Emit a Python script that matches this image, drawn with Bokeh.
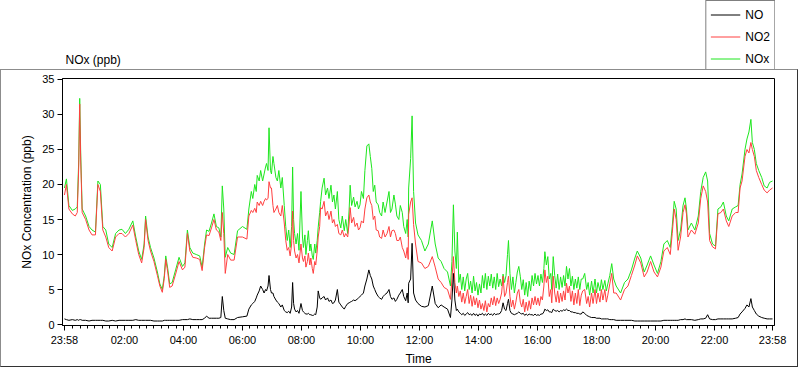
from bokeh.plotting import figure
from bokeh.layouts import column
from bokeh.models import Range1d, FixedTicker, Legend, LegendItem, Label
from bokeh.embed import file_html
from bokeh.resources import INLINE

# ---- data (minutes after the 23:58 start, ppb) ----
MINUTES = [0, 4, 9, 16, 22, 26, 29, 31, 33, 36, 43, 50, 56, 63, 68, 73, 78, 84, 90, 97,
           104, 111, 117, 124, 131, 139, 145, 151, 157, 162, 165, 170, 175, 182, 189, 194, 199,
           203, 206, 210, 214, 219, 226, 233, 240, 245, 250, 255, 261, 268, 275, 280, 285, 289,
           294, 299, 304, 309, 314, 318, 321, 324, 327, 332, 338, 345,
           352, 362, 371, 375,
           380, 383, 387, 390, 392, 396, 399, 403, 406, 409, 411, 414, 416, 419, 421, 424, 426,
           430, 433, 436,
           440, 443, 447, 450, 453, 456, 459, 462, 464, 466,
           468, 471, 474, 477, 481, 484, 486, 489, 491, 494,
           496, 499, 501, 504, 506, 509, 511, 514, 516, 519,
           521, 524, 528, 531, 535, 538, 542, 545, 548, 551,
           555, 558, 562, 565, 569, 572, 576, 579, 581, 584,
           588, 591, 595, 598, 601, 604, 608, 611, 615, 619,
           622, 625, 628, 631, 634, 638, 641, 645, 648, 652,
           656, 660, 663, 666, 670, 673, 676, 680, 683, 687,
           690, 694, 697, 699,
           700, 704, 707, 710, 714, 719, 726, 733, 740, 748, 754, 760, 766, 772, 779,
           785, 788, 791, 794, 797, 799, 802, 805, 808, 811, 814, 817, 820, 823, 826, 829, 832,
           835, 838, 841, 844, 847, 850, 853, 856, 859, 862, 865, 868, 871, 874, 877, 880, 883,
           886, 889, 892, 895, 898, 901, 903, 906, 909, 912, 915, 918, 921, 924, 927, 930, 933,
           936, 939, 942, 945, 948, 951, 954, 957, 960, 963, 966, 969, 972, 975, 977, 980, 983,
           986, 989, 991, 994, 997, 1000, 1003, 1006, 1009, 1012, 1015, 1018, 1021, 1024, 1027,
           1030, 1033, 1036, 1039, 1042, 1045, 1048, 1051,
           1054, 1058, 1062, 1065, 1068, 1072, 1075, 1079, 1082, 1085, 1089, 1092, 1095, 1099,
           1102, 1105, 1109, 1113, 1117,
           1122, 1131, 1139, 1146, 1153, 1160, 1165,
           1172, 1179, 1185, 1192, 1199, 1206, 1213, 1219, 1226, 1232, 1236, 1240, 1244, 1248,
           1253, 1258, 1262, 1265, 1268, 1275, 1282, 1289, 1294, 1299, 1304, 1308, 1312, 1318,
           1324, 1329, 1335, 1340, 1346, 1351, 1358, 1365, 1370, 1374, 1378, 1384, 1388, 1392,
           1396, 1399, 1403, 1407, 1412, 1418, 1423, 1429, 1434, 1440]

NOX = [19.5, 20.8, 17.0, 16.3, 16.5, 16.8, 23.5, 32.3, 24.5, 16.5, 15.5, 14.0, 13.5, 13.2, 20.5, 20.0, 14.0, 13.5, 11.5, 11.0,
       13.0, 13.5, 13.6, 13.0, 13.6, 14.8, 12.5, 10.5, 9.3, 11.5, 15.5, 12.5, 11.0, 9.5, 7.5, 5.8, 5.0,
       7.0, 9.8, 8.0, 5.8, 6.0, 7.8, 9.6, 8.3, 8.8, 13.5, 11.0, 10.2, 10.0, 9.8, 8.2, 11.5, 13.5,
       13.3, 14.5, 15.8, 14.0, 13.8, 12.5, 19.8, 16.5, 9.6, 11.0, 10.2, 10.0,
       13.4, 14.0, 13.6, 16.5,
       19.0, 18.0, 20.0, 19.0, 21.3, 20.5, 22.0, 20.5, 21.5, 22.5, 23.0, 22.0, 28.1, 22.0, 21.5, 24.0, 23.0,
       21.0, 20.5, 22.0,
       19.5, 21.0, 17.0, 14.0, 12.0, 13.5, 11.0, 14.0, 22.5, 15.0,
       13.0, 11.5, 13.0, 10.6, 19.0, 12.5, 11.0, 12.8, 10.0, 12.0,
       13.4, 10.5, 11.5, 9.8, 9.3, 11.5, 10.2, 12.0, 13.9, 16.0,
       17.6, 19.5, 20.9, 18.5, 19.5, 18.0, 19.9, 17.5, 18.5, 16.5,
       19.0, 15.0, 13.8, 15.5, 13.4, 15.0, 13.0, 16.5, 19.9, 17.0,
       18.2, 16.8, 17.6, 16.5, 17.1, 19.0, 18.0, 22.0, 25.5, 25.8,
       24.0, 22.3, 19.0, 19.9, 17.5, 17.1, 16.0, 15.5, 17.5, 16.0,
       17.5, 19.0, 16.0, 16.5, 18.5, 17.2, 15.5, 15.0, 17.0, 16.0,
       14.0, 13.0, 15.0, 12.5,
       19.5, 23.7, 29.8, 19.0, 14.5, 12.8, 12.0, 10.5, 11.5, 14.8, 11.5, 9.5, 9.0, 8.0, 7.5,
       5.5, 9.0, 17.1, 10.5, 8.0, 13.2, 6.0, 7.2, 5.0, 6.8, 4.8, 6.5, 7.3, 5.0, 6.2, 4.5, 6.9,
       4.8, 6.0, 4.2, 5.8, 4.5, 7.0, 5.2, 7.3, 5.0, 6.9, 5.5, 7.2, 5.2, 6.8, 5.0, 7.3, 5.4,
       6.5, 5.5, 7.2, 6.0, 7.0, 10.0, 12.0, 7.3, 5.0, 6.8, 4.5, 6.0, 7.5, 8.3, 6.9, 5.0, 6.4,
       4.2, 6.0, 4.0, 6.2, 4.8, 7.0, 5.5, 7.3, 5.8, 7.0, 5.5, 7.2, 6.0, 8.0, 10.4, 8.5, 9.7,
       6.5, 7.3, 5.0, 9.7, 7.0, 5.2, 7.2, 5.0, 6.8, 5.3, 7.0, 5.5, 8.3, 6.5, 8.0,
       5.5, 6.9, 5.0, 6.5, 5.2, 6.8, 5.0, 6.5,
       6.5, 7.3, 5.0, 6.0, 4.2, 6.2, 4.5, 6.5, 4.5, 6.0, 4.8, 6.4, 5.0, 6.3,
       4.8, 5.8, 7.0, 8.7, 6.5,
       5.5, 4.5, 6.0, 6.5, 7.8, 9.5, 10.5,
       9.5, 7.5, 8.5, 9.8, 8.5, 7.3, 9.0, 11.5, 12.0, 11.0, 14.0, 17.6, 16.5, 12.0,
       13.5, 17.0, 18.1, 16.5, 13.5, 14.5, 13.5, 15.5, 19.0, 21.0, 21.8, 20.5, 13.0, 11.5,
       11.2, 16.5, 16.8, 17.5, 15.5, 14.8, 16.5, 16.8, 17.0, 20.0, 21.5, 25.0, 26.5, 27.5,
       29.3, 26.0, 25.0, 23.0, 22.0, 21.0, 19.8, 19.5, 20.3, 20.5]

NO2 = [18.5, 20.0, 16.5, 15.8, 15.5, 16.0, 22.5, 31.5, 23.5, 16.0, 15.0, 13.5, 12.8, 12.8, 20.0, 19.0, 13.5, 12.5, 11.0, 10.5,
       12.5, 13.0, 13.0, 12.5, 13.0, 14.2, 12.0, 10.0, 8.8, 11.0, 15.0, 12.0, 10.5, 9.0, 7.0, 5.5, 4.6,
       6.6, 9.3, 7.5, 5.3, 5.5, 7.2, 9.0, 7.8, 8.2, 13.0, 10.5, 9.6, 9.5, 9.3, 7.7, 11.0, 12.8,
       12.7, 13.8, 15.0, 13.5, 13.2, 12.0, 16.0, 13.0, 7.3, 10.0, 9.2, 9.2,
       12.5, 12.5, 12.2, 15.5,
       16.3, 16.0, 16.6, 16.0, 17.5, 17.0, 17.6, 17.0, 17.6, 18.0, 17.8, 18.0, 20.4, 19.5, 19.5, 17.0, 16.0,
       16.5, 17.0, 16.0,
       15.5, 17.0, 14.5, 12.0, 10.6, 11.0, 9.8, 11.5, 16.2, 12.0,
       10.5, 9.5, 10.0, 8.8, 11.5, 9.5, 9.0, 9.8, 8.2, 9.0,
       10.2, 8.5, 9.5, 8.0, 7.3, 9.0, 8.5, 10.5, 12.5, 14.0,
       16.7, 16.5, 17.6, 15.5, 16.2, 15.0, 16.2, 14.5, 15.0, 14.0,
       14.3, 13.0, 12.8, 13.5, 12.5, 13.0, 12.5, 14.5, 16.7, 14.5,
       15.3, 14.0, 14.5, 13.5, 13.8, 14.8, 14.5, 16.5, 18.1, 18.5,
       17.5, 17.0, 15.0, 15.5, 13.5, 13.4, 12.5, 12.3, 13.5, 12.5,
       13.0, 14.0, 12.5, 13.4, 13.5, 13.0, 12.0, 12.0, 12.5, 11.0,
       10.5, 9.5, 11.0, 9.3,
       15.7, 17.5, 18.1, 14.3, 11.5, 9.0, 8.8, 8.0, 8.3, 9.7, 8.2, 6.5, 6.0, 5.3, 5.0,
       3.6, 6.5, 9.7, 6.0, 4.5, 5.5, 4.0, 4.8, 3.2, 4.5, 3.0, 4.0, 5.0, 3.0, 4.2, 2.6, 4.0,
       2.8, 3.8, 2.4, 3.5, 2.2, 3.0, 2.0, 3.4, 1.8, 3.0, 2.5, 3.8, 2.8, 4.0, 2.7, 3.8, 3.0,
       3.6, 4.5, 6.9, 4.0, 4.5, 6.0, 6.9, 4.0, 2.5, 3.5, 2.2, 3.2, 4.5, 5.0, 3.2, 2.5, 3.6,
       1.8, 3.2, 2.0, 3.4, 2.2, 3.8, 2.8, 4.0, 2.8, 3.8, 2.7, 4.0, 3.5, 5.5, 7.8, 6.0, 6.9,
       4.0, 5.0, 3.1, 6.9, 4.5, 3.2, 4.8, 3.1, 4.5, 3.3, 4.8, 3.5, 5.9, 4.5, 5.5,
       3.3, 4.8, 2.8, 4.5, 3.0, 5.0, 2.7, 4.2,
       4.8, 5.0, 3.0, 4.0, 2.5, 4.5, 3.0, 5.0, 3.0, 4.5, 3.2, 5.0, 3.5, 5.0,
       3.2, 4.2, 5.8, 7.3, 4.5,
       4.5, 3.5, 5.0, 5.5, 7.0, 8.5, 9.8,
       8.8, 6.8, 7.5, 9.0, 7.5, 6.8, 8.2, 10.5, 11.0, 10.0, 13.0, 16.5, 15.0, 10.6,
       12.5, 16.0, 17.1, 15.8, 12.5, 13.5, 12.9, 14.5, 18.0, 19.8, 19.0, 17.5, 12.0, 11.1,
       10.8, 15.8, 16.0, 16.5, 14.8, 14.0, 15.5, 16.0, 16.0, 19.5, 20.5, 24.0, 25.0, 24.5,
       26.0, 25.0, 24.0, 22.0, 21.0, 20.0, 19.2, 18.8, 19.2, 19.5]

NO = [0.8, 0.7, 0.6, 0.7, 0.6, 0.7, 0.6, 0.7, 0.7, 0.6, 0.6, 0.5, 0.6, 0.6, 0.6, 0.6, 0.6, 0.5, 0.5, 0.6,
      0.5, 0.6, 0.6, 0.6, 0.6, 0.6, 0.7, 0.6, 0.6, 0.6, 0.6, 0.6, 0.6, 0.5, 0.5, 0.5, 0.5,
      0.6, 0.6, 0.6, 0.6, 0.6, 0.6, 0.6, 0.7, 0.7, 0.7, 0.8, 0.7, 0.7, 0.7, 0.7, 0.9, 1.2,
      0.9, 0.9, 0.9, 0.9, 0.9, 1.0, 4.0, 2.0, 0.9, 0.8, 0.7, 0.7,
      1.0, 1.1, 1.2, 2.2,
      2.8, 3.0, 3.3, 3.8, 4.2, 4.8, 5.5, 5.0, 4.5, 5.0, 4.8, 5.5, 7.0, 5.0, 4.5, 4.5, 4.0,
      3.5, 3.2, 3.0,
      2.5, 2.8, 2.0, 1.8, 1.7, 1.9, 1.6, 2.5, 6.0, 3.0,
      2.2, 1.8, 2.0, 1.6, 3.0, 2.0, 1.8, 1.6, 1.5, 1.5,
      1.6, 1.4, 1.4, 1.3, 1.3, 1.5, 1.4, 2.5, 4.8, 3.8,
      3.6, 3.8, 4.0, 3.5, 3.8, 3.3, 3.5, 3.0, 3.1, 3.5,
      5.0, 3.2, 2.8, 2.5, 2.2, 2.6, 3.0, 3.1, 3.2, 3.3,
      3.5, 3.4, 3.6, 3.8, 4.0, 4.2, 4.5, 5.5, 6.5, 7.8,
      7.0, 6.5, 5.5, 5.0, 4.5, 4.0, 3.8, 3.6, 4.0, 4.3,
      4.5, 5.0, 4.0, 3.6, 3.8, 3.3, 3.6, 4.2, 4.5, 5.0,
      4.0, 3.4, 4.5, 3.1,
      5.9, 6.5, 11.6, 4.5, 3.5, 3.0, 2.6, 2.5, 2.7, 5.5, 3.0, 2.4, 2.8, 2.5, 2.2,
      1.0, 3.5, 7.3, 3.5, 2.0, 2.2, 1.8, 1.6, 1.4, 1.6, 1.3, 1.5, 1.7, 1.4, 1.5, 1.3, 1.6,
      1.3, 1.5, 1.2, 1.5, 1.4, 1.6, 1.3, 1.5, 1.3, 1.6, 1.4, 1.5, 1.3, 1.6, 1.4, 1.5, 1.5,
      1.6, 2.0, 3.1, 2.2, 2.0, 3.0, 3.6, 2.0, 1.6, 1.5, 1.4, 1.5, 1.6, 1.8, 1.6, 1.5, 1.6,
      1.3, 1.5, 1.3, 1.5, 1.4, 1.4, 1.3, 1.5, 1.3, 1.4, 1.3, 1.5, 1.5, 1.8, 2.2, 2.0, 2.1,
      1.8, 1.8, 1.7, 2.2, 2.0, 1.9, 2.0, 1.8, 2.0, 1.9, 2.1, 2.0, 2.2, 2.0, 2.0,
      1.8, 1.8, 1.7, 1.7, 1.6, 1.6, 1.5, 1.5,
      1.8, 1.6, 1.3, 1.2, 1.1, 1.0, 1.0, 1.0, 0.9, 0.9, 0.9, 0.8, 0.8, 0.8,
      0.8, 0.8, 0.7, 0.7, 0.7,
      0.6, 0.6, 0.6, 0.6, 0.6, 0.5, 0.5,
      0.5, 0.5, 0.5, 0.5, 0.5, 0.5, 0.5, 0.6, 0.6, 0.6, 0.6, 0.6, 0.6, 0.6,
      0.7, 0.7, 0.8, 0.7, 0.7, 0.7, 0.6, 0.7, 0.8, 0.8, 0.9, 1.4, 0.8, 0.7,
      0.7, 0.8, 0.8, 0.8, 0.8, 0.8, 0.8, 0.9, 1.0, 1.5, 1.8, 2.3, 2.8, 2.5,
      3.7, 2.5, 2.0, 1.5, 1.2, 1.0, 0.9, 0.8, 0.8, 0.8]

TICK_LABELS = ["23:58", "02:00", "04:00", "06:00", "08:00", "10:00", "12:00",
               "14:00", "16:00", "18:00", "20:00", "22:00", "23:58"]
Y_TICKS = [0, 5, 10, 15, 20, 25, 30, 35]
SERIES_NAMES = ["NO", "NO2", "NOx"]
COLORS = {"NO": "#000000", "NO2": "#FF4040", "NOx": "#1EE61E"}

FONT = "Liberation Sans"
W = 800
TOP_H = 69
MAIN_W, MAIN_H = 798, 298       # plus a 1px css border on each side


def tick_minutes(lbl, last=False):
    h, m = map(int, lbl.split(":"))
    v = (h * 60 + m - (23 * 60 + 58)) % 1440
    return 1440 if (last and v == 0) else v


major = [tick_minutes(l, i == len(TICK_LABELS) - 1) for i, l in enumerate(TICK_LABELS)]
minor = [v for v in range(17, 1440, 15) if v not in major]

series = {"NO": NO, "NO2": NO2, "NOx": NOX}
assert all(len(s) == len(MINUTES) for s in series.values()), [len(s) for s in series.values()]

# ---------- top strip: panel caption + legend ----------
top = figure(width=W, height=TOP_H, output_backend="svg", toolbar_location=None,
             x_range=Range1d(0, 1440), y_range=Range1d(-100, -99),
             x_axis_location=None, y_axis_location=None, min_border=0)
top.outline_line_color = None
top.xgrid.visible = False
top.ygrid.visible = False
top_r = {n: top.line(MINUTES, series[n], line_color=COLORS[n], line_width=1)
         for n in SERIES_NAMES}
top.add_layout(Label(x=4, y=10, x_units="screen", y_units="screen", text="NOx (ppb)",
                     text_font=FONT, text_font_size="12px", text_color="black",
                     text_baseline="alphabetic"))
legend = Legend(items=[LegendItem(label=n, renderers=[top_r[n]]) for n in SERIES_NAMES],
                location="top_right")
legend.border_line_color = "black"
legend.border_line_width = 1
legend.background_fill_color = "white"
legend.background_fill_alpha = 1
legend.label_text_font = FONT
legend.label_text_font_size = "12px"
legend.label_text_color = "black"
legend.glyph_width = 30
legend.glyph_height = 19
legend.label_height = 19
legend.label_width = 0
legend.spacing = 3
legend.padding = 4
legend.margin = 0
legend.label_standoff = 5
top.add_layout(legend, "center")

# ---------- main chart ----------
p = figure(width=MAIN_W, height=MAIN_H, output_backend="svg", toolbar_location=None,
           x_range=Range1d(-4, 1444), y_range=Range1d(-0.14, 35.14),
           min_border_left=61, min_border_right=25,
           min_border_top=8, min_border_bottom=38)
p.styles = {"border-top": "1px solid #8c8c8c", "border-left": "1px solid #8c8c8c",
            "border-right": "1px solid #333333", "border-bottom": "1px solid #333333"}
p.background_fill_color = "white"
p.border_fill_color = "white"
p.outline_line_color = "black"
p.outline_line_width = 1
p.xgrid.visible = False
p.ygrid.visible = False

for n in ["NOx", "NO2", "NO"]:
    p.line(MINUTES, series[n], line_color=COLORS[n], line_width=1)

xa = p.xaxis[0]
xa.ticker = FixedTicker(ticks=major, minor_ticks=minor)
xa.major_label_overrides = {v: l for v, l in zip(major, TICK_LABELS)}
xa.major_tick_out = 5
xa.major_tick_in = 0
xa.minor_tick_out = 3
xa.minor_tick_in = 0
xa.major_label_standoff = 3
xa.major_label_text_font = FONT
xa.major_label_text_font_size = "11px"
xa.major_label_text_color = "black"
xa.axis_line_color = "black"
xa.axis_label = "Time"
xa.axis_label_text_font = FONT
xa.axis_label_text_font_size = "12px"
xa.axis_label_text_font_style = "normal"
xa.axis_label_text_color = "black"
xa.axis_label_standoff = 3

ya = p.yaxis[0]
ya.ticker = FixedTicker(ticks=Y_TICKS, minor_ticks=[])
ya.major_tick_out = 5
ya.major_tick_in = 0
ya.minor_tick_out = 0
ya.minor_tick_in = 0
ya.major_label_standoff = 3
ya.major_label_text_font = FONT
ya.major_label_text_font_size = "11px"
ya.major_label_text_color = "black"
ya.axis_line_color = "black"
ya.axis_label = "NOx Concentration (ppb)"
ya.axis_label_text_font = FONT
ya.axis_label_text_font_size = "12px"
ya.axis_label_text_font_style = "normal"
ya.axis_label_text_color = "black"
ya.axis_label_standoff = 5

layout = column(top, p, spacing=0)
open("out.html", "w").write(file_html(layout, INLINE))
